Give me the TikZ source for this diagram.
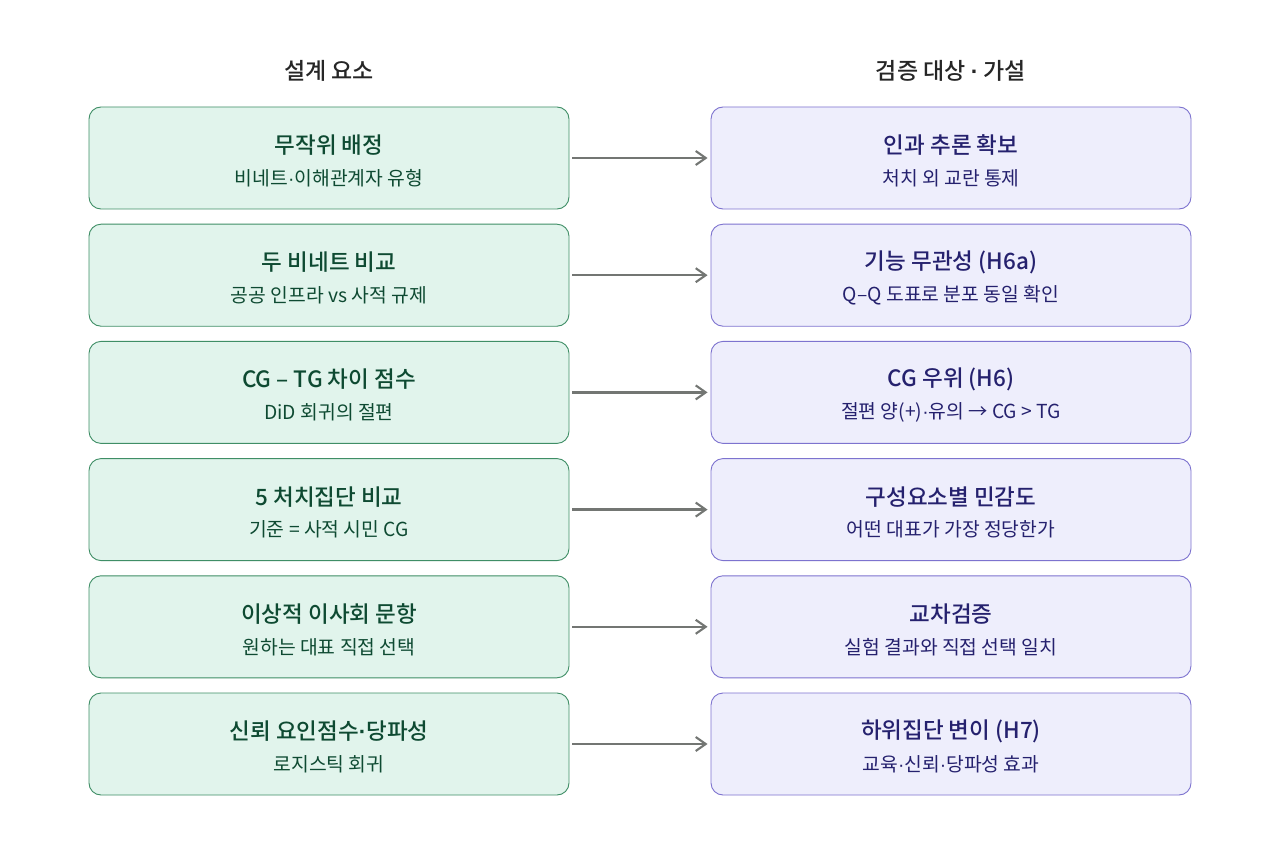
\documentclass[tikz,border=0pt]{standalone}
\usepackage{fontspec}
\setmainfont{Noto Sans CJK KR}[BoldFont={Noto Sans CJK KR Medium}]
\newfontfamily\dotfont{Liberation Sans}
\newcommand{\md}{{\dotfont\char"00B7}}
\usetikzlibrary{arrows.meta}
\definecolor{gfill}{HTML}{E1F4EC}
\definecolor{gdraw}{HTML}{3F8E66}
\definecolor{gtext}{HTML}{0E4A32}
\definecolor{pfill}{HTML}{EEEEFC}
\definecolor{pdraw}{HTML}{7D73CF}
\definecolor{ptext}{HTML}{25216E}
\definecolor{arr}{HTML}{737673}
\tikzset{
  gbox/.style={draw=gdraw, fill=gfill, line width=0.9pt, rounded corners=12pt, minimum width=480pt, minimum height=102pt, inner sep=0pt},
  pbox/.style={draw=pdraw, fill=pfill, line width=0.9pt, rounded corners=12pt, minimum width=480pt, minimum height=102pt, inner sep=0pt},
  ttl/.style={font=\fontsize{22.5}{26}\selectfont\bfseries, inner sep=0pt},
  sub/.style={font=\fontsize{19.3}{22}\selectfont, inner sep=0pt},
  hdr/.style={font=\fontsize{23}{26}\selectfont\bfseries, text=black!85, inner sep=0pt},
  conn/.style={draw=arr, line width=2.3pt, -{Straight Barb[length=10pt,width=14pt,line width=2.1pt]}},
}
\begin{document}
\begin{tikzpicture}[x=1pt,y=-1pt]
\useasboundingbox (0,0) rectangle (1280,853);
\fill[white] (0,0) rectangle (1280,853);
\node[hdr] (hl) at (329,71) {설계 요소};
\node[hdr] (hr) at (951,71) {검증 대상 \md{} 가설};
\foreach \i/\lt/\ls/\rt/\rs in {
 1/무작위 배정/비네트\md 이해관계자 유형/인과 추론 확보/처치 외 교란 통제,
 2/두 비네트 비교/공공 인프라 vs 사적 규제/기능 무관성 (H6a)/Q–Q 도표로 분포 동일 확인,
 3/CG – TG 차이 점수/DiD 회귀의 절편/CG 우위 (H6)/절편 양(+)\md 유의 → CG > TG,
 4/5 처치집단 비교/기준 = 사적 시민 CG/구성요소별 민감도/어떤 대표가 가장 정당한가,
 5/이상적 이사회 문항/원하는 대표 직접 선택/교차검증/실험 결과와 직접 선택 일치,
 6/신뢰 요인점수\md 당파성/로지스틱 회귀/하위집단 변이 (H7)/교육\md 신뢰\md 당파성 효과}{
  \pgfmathsetmacro{\cy}{158+117.2*(\i-1)}
  \node[gbox] (L\i) at (329,\cy) {};
  \node[pbox] (R\i) at (951,\cy) {};
  \node[ttl, text=gtext] (Lt\i) at (329,\cy-13) {\lt};
  \node[sub, text=gtext] (Ls\i) at (329,\cy+20) {\ls};
  \node[ttl, text=ptext] (Rt\i) at (951,\cy-13) {\rt};
  \node[sub, text=ptext] (Rs\i) at (951,\cy+20) {\rs};
  \draw[conn] ([xshift=3pt]L\i.east) -- ([xshift=-3pt]R\i.west);
}
\end{tikzpicture}
\end{document}
